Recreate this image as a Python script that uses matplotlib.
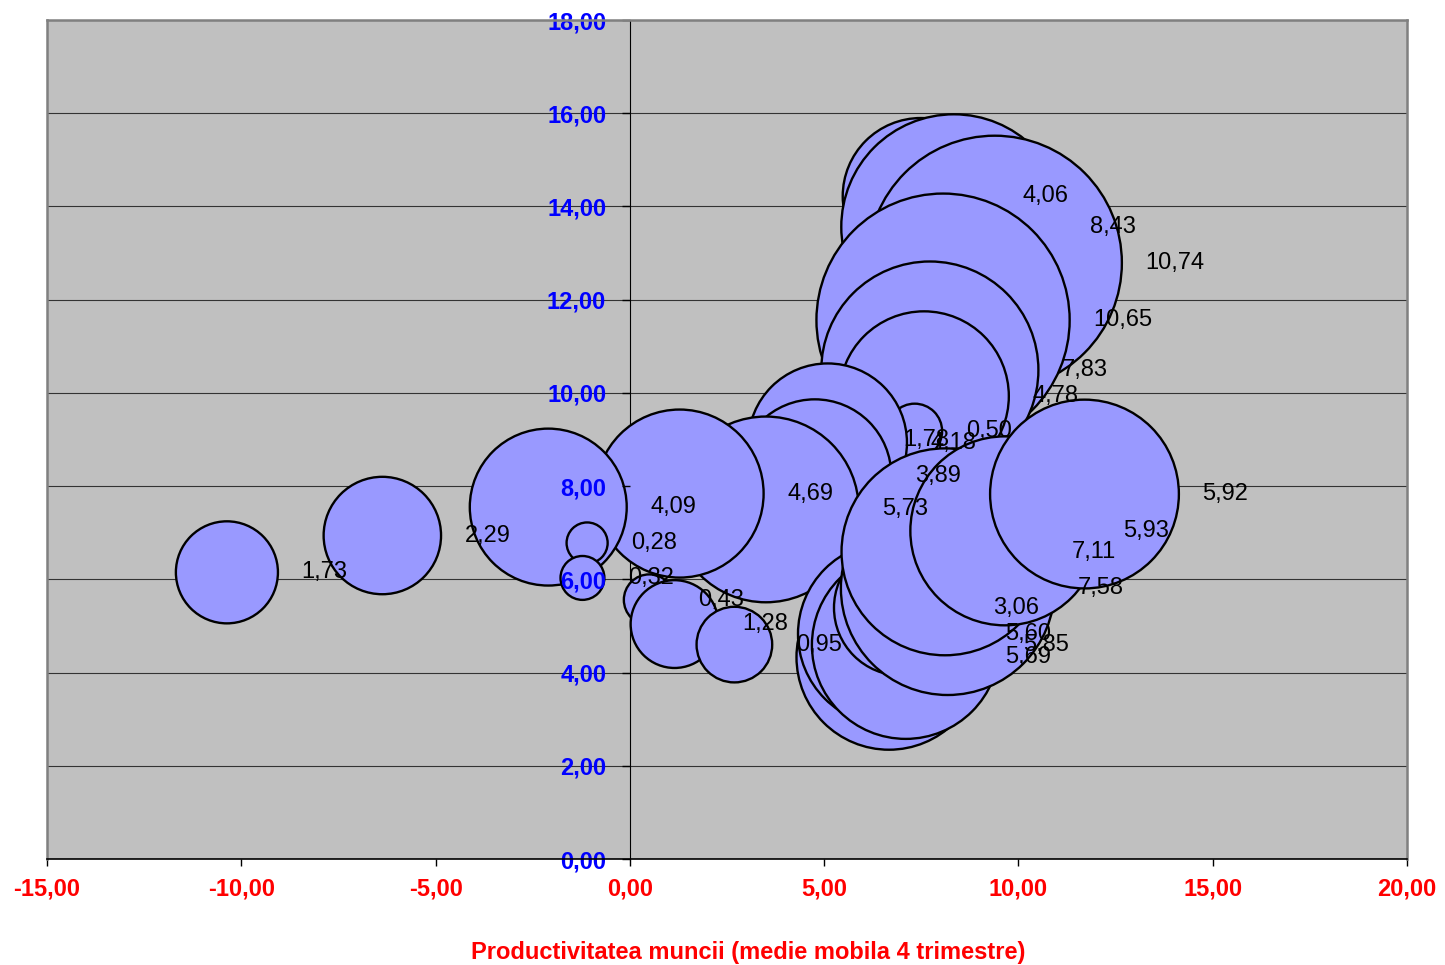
import numpy as np
import matplotlib.pyplot as plt

plt.rcParams['font.family'] = ['Liberation Sans', 'DejaVu Sans']

# date (ordine cronologica presupusa)
productivitate = [7.49, 8.34, 9.39, 8.06, 7.72, 7.57, 7.33, 5.10, 5.09, 4.76,
                  3.50, 1.28, -2.10, -6.37, -10.37, -1.10, -1.22, 0.50, 1.15, 2.69,
                  6.67, 6.69, 7.10, 7.00, 8.18, 8.11, 9.65, 11.70]
valoare_y = [14.22, 13.56, 12.79, 11.56, 10.49, 9.93, 9.18, 8.99, 8.93, 8.22,
             7.50, 7.84, 7.55, 6.94, 6.15, 6.78, 6.03, 5.56, 5.04, 4.60,
             4.33, 4.83, 4.59, 5.39, 5.81, 6.59, 7.04, 7.83]
marime = [4.06, 8.43, 10.74, 10.65, 7.83, 4.78, 0.50, 1.78, 4.18, 3.89,
          5.73, 4.69, 4.09, 2.29, 1.73, 0.28, 0.32, 0.43, 1.28, 0.95,
          5.69, 5.60, 5.85, 3.06, 7.58, 7.11, 5.93, 5.92]

x_ticks = np.arange(-15, 21, 5)
y_ticks = np.arange(0, 19, 2)


def fmt(v):
    return f"{v:.2f}".replace('.', ',')


fig = plt.figure(figsize=(14.45, 9.65), dpi=100)
ax = fig.add_axes([47 / 1445, 106 / 965, 1360 / 1445, 839 / 965])
ax.set_facecolor('#C0C0C0')
ax.set_xlim(-15, 20)
ax.set_ylim(0, 18)

# linii de grila orizontale, sub bule
for yt in y_ticks:
    ax.axhline(yt, color='#333333', lw=0.8, zorder=0.5)

scale = 3121  # pt^2 pe unitate de marime
ax.scatter(productivitate, valoare_y, s=np.array(marime) * scale,
           c='#9999FF', edgecolors='black', linewidths=1.7, zorder=1)

for xv, yv, m in zip(productivitate, valoare_y, marime):
    r_pt = np.sqrt(m * scale) / 2
    ax.annotate(fmt(m), (xv, yv), xytext=(r_pt + 17, 0), textcoords='offset points',
                ha='left', va='center', fontsize=17, color='black', zorder=3)

# axe
ax.spines['left'].set_position(('data', 0))
ax.spines['left'].set_color('black')
ax.spines['left'].set_linewidth(0.8)
ax.spines['left'].set_zorder(0.6)
for s in ['top', 'right']:
    ax.spines[s].set_color('#808080')
    ax.spines[s].set_linewidth(1.8)
ax.spines['bottom'].set_color('black')
ax.spines['bottom'].set_linewidth(1.2)
ax.plot([0, 0], [0, 1], transform=ax.transAxes, color='#808080', lw=1.8, clip_on=False)

ax.set_xticks(x_ticks, [fmt(v) for v in x_ticks])
ax.set_yticks(y_ticks, [fmt(v) for v in y_ticks])
ax.tick_params(axis='x', direction='out', length=5, width=1, pad=8,
               labelsize=17, labelcolor='red')
ax.tick_params(axis='y', direction='out', length=6, width=1, pad=11,
               labelsize=17, labelcolor='blue')
for lab in ax.get_xticklabels() + ax.get_yticklabels():
    lab.set_fontweight('bold')

ax.set_xlabel('Productivitatea muncii (medie mobila 4 trimestre)', color='red',
              fontsize=17, fontweight='bold')
ax.xaxis.set_label_coords(0.5154, -0.1186)
ax.xaxis.label.set_va('baseline')

fig.savefig('out.png', dpi=100)
